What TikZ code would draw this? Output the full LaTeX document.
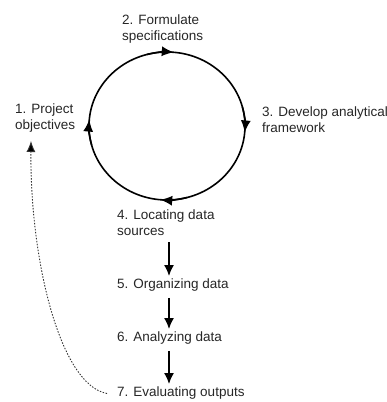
\documentclass[tikz,border=0pt]{standalone}
\usepackage{fontspec}
\setmainfont{Liberation Sans}
\usetikzlibrary{arrows.meta}
\tikzset{
  stage/.style={anchor=north west, inner sep=0pt, align=left, font=\fontsize{13.5}{16}\selectfont, text=black!85},
  ring/.style={line width=1.6pt},
  cyc/.style={line width=1.6pt, -{Latex[length=12pt,width=10pt]}},
  flow/.style={line width=1.5pt, shorten <=6pt, shorten >=3pt, -{Latex[length=11pt,width=10pt]}},
  back/.style={line width=0.9pt, black!80, dash pattern=on 1.5pt off 1.5pt, -{Latex[length=11pt,width=9pt,fill=black]}}
}
\begin{document}
\begin{tikzpicture}[x=1pt, y=-1pt]
    \useasboundingbox (0,0) rectangle (386,402);

    % the cycle
    \coordinate (c) at (167,126);
    \draw [ring] (c) ellipse [x radius=78, y radius=74];
    \draw [cyc] ([shift={(255:78 and 74)}]c) arc [start angle=255, end angle=275, x radius=78, y radius=74];
    \draw [cyc] ([shift={(345:78 and 74)}]c) arc [start angle=345, end angle=365, x radius=78, y radius=74];
    \draw [cyc] ([shift={(75:78 and 74)}]c) arc [start angle=75, end angle=95, x radius=78, y radius=74];
    \draw [cyc] ([shift={(165:78 and 74)}]c) arc [start angle=165, end angle=185, x radius=78, y radius=74];

    \node [stage] (n1) at (15,104) {1. Project\\objectives};
    \node [stage] (n2) at (122,15) {2. Formulate\\specifications};
    \node [stage] (n3) at (262,107) {3. Develop analytical\\framework};

    % the steps below
    \node [stage] (n4) at (117,210) {4. Locating data\\sources};
    \node [stage] (n5) at (117,279) {5. Organizing data};
    \node [stage] (n6) at (117,332) {6. Analyzing data};
    \node [stage] (n7) at (117,387) {7. Evaluating outputs};

    \coordinate (sp) at (169,0);
    \draw [flow] (n4.south -| sp) -- (n5.north -| sp);
    \draw [flow] (n5.south -| sp) -- (n6.north -| sp);
    \draw [flow] (n6.south -| sp) -- (n7.north -| sp);

    % feedback
    \coordinate (fb) at (31,141);
    \draw [back] ([xshift=-10pt]n7.west) .. controls (60,385) and (30,260) .. (fb);
\end{tikzpicture}
\end{document}
